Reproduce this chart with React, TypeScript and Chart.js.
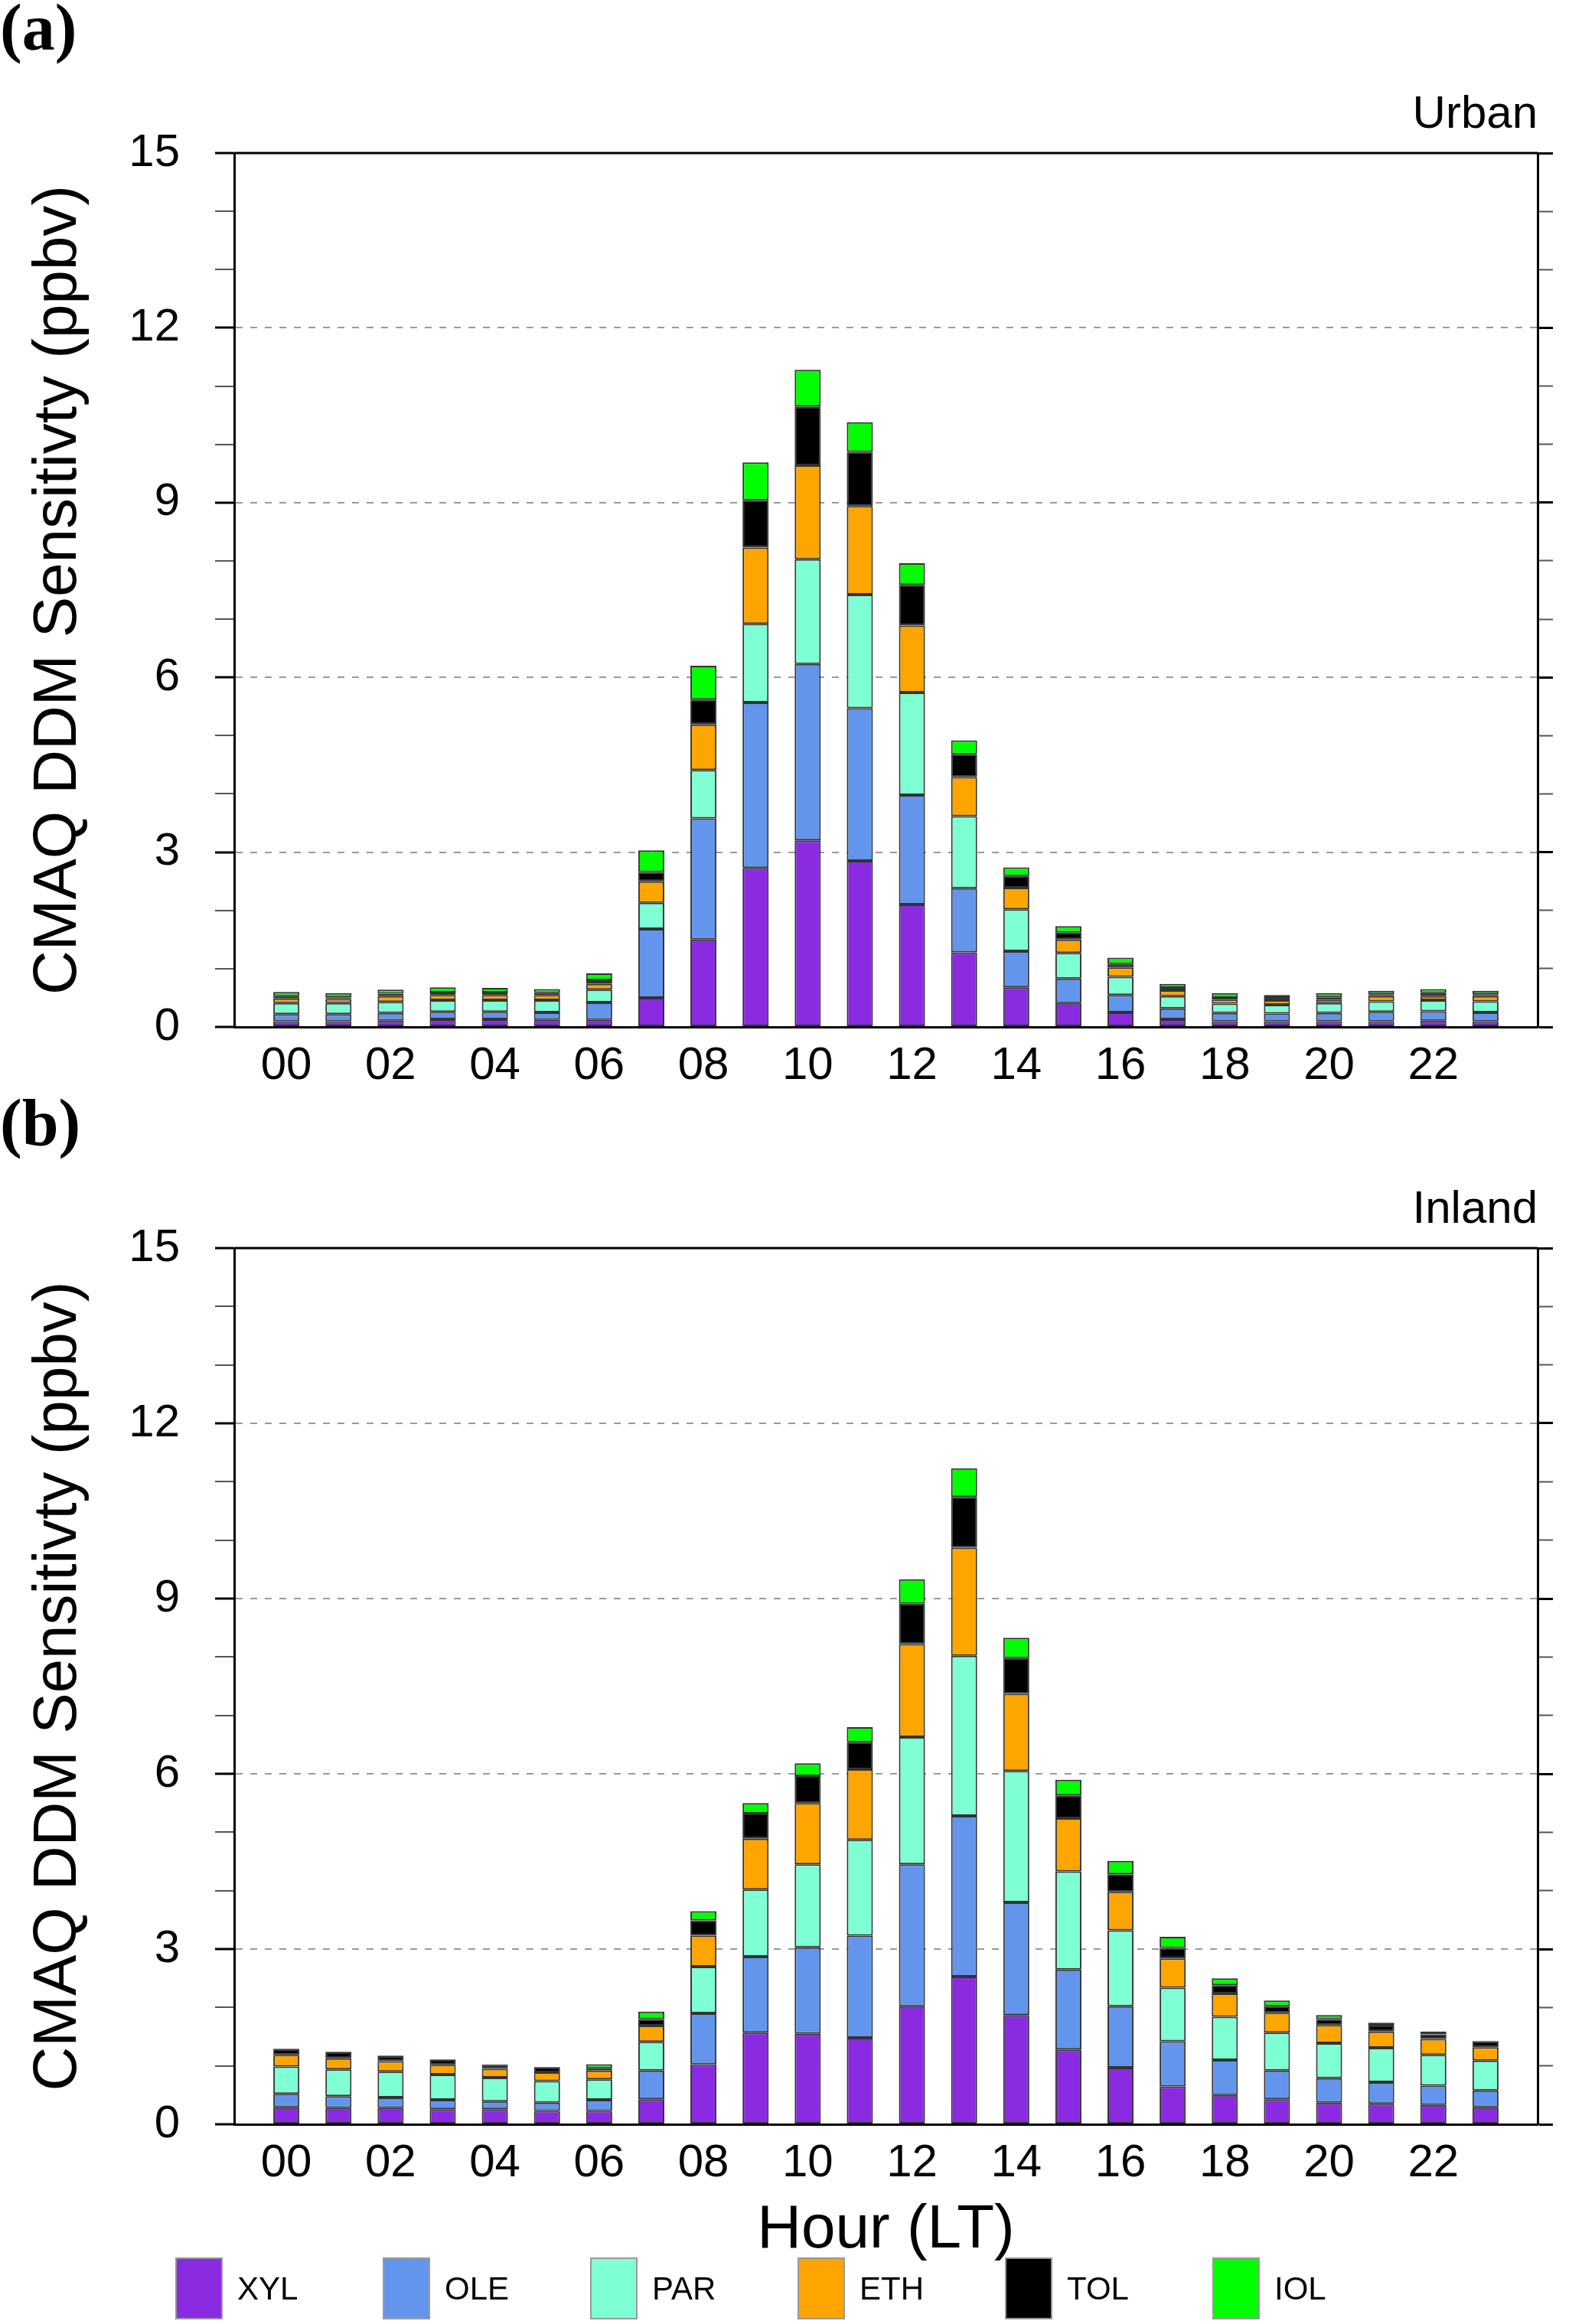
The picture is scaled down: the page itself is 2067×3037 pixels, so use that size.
import { useEffect, useRef } from "react"
import { Chart, registerables } from "chart.js"

Chart.register(...registerables)

Chart.defaults.font.family = '"Liberation Sans", Arial, sans-serif'
Chart.defaults.color = "#000"

const hours = [0, 1, 2, 3, 4, 5, 6, 7, 8, 9, 10, 11, 12, 13, 14, 15, 16, 17, 18, 19, 20, 21, 22, 23]
const hourTicks = [0, 2, 4, 6, 8, 10, 12, 14, 16, 18, 20, 22]
const seriesNames = ["XYL", "OLE", "PAR", "ETH", "TOL", "IOL"]
const seriesColors = ["#8a2be2", "#6495ed", "#7fffd4", "#ffa500", "#000000", "#00ff00"]

// (a) Urban
const urbanXYL = [0.10, 0.10, 0.11, 0.13, 0.13, 0.12, 0.12, 0.50, 1.50, 2.73, 3.20, 2.85, 2.10, 1.28, 0.68, 0.41, 0.25, 0.13, 0.10, 0.10, 0.10, 0.10, 0.11, 0.10]
const urbanOLE = [0.12, 0.12, 0.13, 0.13, 0.13, 0.13, 0.30, 1.18, 2.08, 2.84, 3.03, 2.62, 1.88, 1.10, 0.62, 0.42, 0.30, 0.19, 0.14, 0.13, 0.14, 0.16, 0.16, 0.15]
const urbanPAR = [0.19, 0.19, 0.19, 0.20, 0.20, 0.21, 0.22, 0.45, 0.83, 1.35, 1.80, 1.95, 1.76, 1.24, 0.72, 0.44, 0.31, 0.21, 0.16, 0.15, 0.17, 0.18, 0.19, 0.19]
const urbanETH = [0.08, 0.07, 0.10, 0.09, 0.09, 0.09, 0.10, 0.37, 0.78, 1.31, 1.61, 1.52, 1.15, 0.67, 0.37, 0.23, 0.16, 0.10, 0.07, 0.08, 0.06, 0.09, 0.07, 0.09]
const urbanTOL = [0.04, 0.03, 0.04, 0.04, 0.04, 0.03, 0.06, 0.16, 0.43, 0.81, 1.01, 0.93, 0.70, 0.39, 0.20, 0.12, 0.06, 0.04, 0.03, 0.04, 0.04, 0.03, 0.05, 0.03]
const urbanIOL = [0.07, 0.07, 0.07, 0.09, 0.08, 0.07, 0.12, 0.37, 0.58, 0.65, 0.63, 0.51, 0.37, 0.24, 0.15, 0.11, 0.11, 0.07, 0.08, 0.05, 0.07, 0.06, 0.07, 0.06]

// (b) Inland
const inlandXYL = [0.29, 0.28, 0.28, 0.26, 0.26, 0.23, 0.23, 0.43, 1.03, 1.57, 1.55, 1.48, 2.02, 2.53, 1.87, 1.28, 0.97, 0.65, 0.50, 0.43, 0.37, 0.35, 0.33, 0.29]
const inlandOLE = [0.23, 0.20, 0.18, 0.16, 0.13, 0.14, 0.19, 0.49, 0.87, 1.30, 1.48, 1.75, 2.43, 2.75, 1.93, 1.37, 1.05, 0.77, 0.60, 0.49, 0.42, 0.37, 0.33, 0.29]
const inlandPAR = [0.47, 0.46, 0.44, 0.43, 0.41, 0.37, 0.35, 0.49, 0.80, 1.15, 1.42, 1.64, 2.18, 2.74, 2.25, 1.68, 1.30, 0.92, 0.74, 0.65, 0.60, 0.59, 0.53, 0.51]
const inlandETH = [0.20, 0.19, 0.18, 0.17, 0.15, 0.15, 0.15, 0.28, 0.53, 0.87, 1.05, 1.21, 1.59, 1.85, 1.32, 0.91, 0.66, 0.50, 0.40, 0.34, 0.31, 0.28, 0.27, 0.23]
const inlandTOL = [0.10, 0.10, 0.09, 0.08, 0.07, 0.08, 0.04, 0.11, 0.26, 0.43, 0.46, 0.46, 0.69, 0.87, 0.61, 0.39, 0.30, 0.18, 0.14, 0.11, 0.10, 0.10, 0.08, 0.10]
const inlandIOL = [0.01, 0.01, 0.01, 0.01, 0.01, 0.01, 0.07, 0.13, 0.16, 0.18, 0.22, 0.26, 0.42, 0.49, 0.35, 0.27, 0.23, 0.19, 0.12, 0.10, 0.07, 0.05, 0.05, 0.01]

const urbanSeries = [urbanXYL, urbanOLE, urbanPAR, urbanETH, urbanTOL, urbanIOL]
const inlandSeries = [inlandXYL, inlandOLE, inlandPAR, inlandETH, inlandTOL, inlandIOL]

// top edge of the plot box (the other three sides are axis borders)
const frameTop = {
  id: "frameTop",
  afterDatasetsDraw(chart: Chart) {
    const { ctx, chartArea } = chart
    ctx.save()
    ctx.strokeStyle = "#000"
    ctx.lineWidth = 3
    ctx.beginPath()
    ctx.moveTo(chartArea.left, chartArea.top)
    ctx.lineTo(chartArea.right, chartArea.top)
    ctx.stroke()
    ctx.restore()
  },
}

const isMajor = (v: number) => v % 3 === 0
const tickColor = (c: any) => (c.tick && isMajor(c.tick.value) ? "#000" : "#555")
const tickWidth = (c: any) => (c.tick && isMajor(c.tick.value) ? 3 : 2)

type PanelProps = {
  tag: string
  region: string
  series: number[][]
  top: number
  height: number
  xHeight: number
  showXTitle: boolean
}

function Panel({ tag, region, series, top, height, xHeight, showXTitle }: PanelProps) {
  const canvasRef = useRef<HTMLCanvasElement>(null)

  useEffect(() => {
    if (!canvasRef.current) return

    const chart = new Chart(canvasRef.current, {
      type: "bar",
      data: {
        datasets: series.map((vals, i) => ({
          label: seriesNames[i],
          data: hours.map((h, j) => ({ x: h, y: vals[j] })),
          backgroundColor: seriesColors[i],
          borderColor: "#333",
          borderWidth: 2,
          borderSkipped: false,
          barPercentage: 0.5,
          categoryPercentage: 1,
        })),
      },
      options: {
        animation: false,
        responsive: true,
        maintainAspectRatio: false,
        layout: { padding: 0 },
        plugins: {
          legend: { display: false },
          tooltip: { enabled: false },
          title: {
            display: true,
            text: tag,
            align: "start",
            color: "#000",
            font: { family: '"Liberation Serif", "Times New Roman", serif', size: 86, weight: "bold", lineHeight: 1 },
            padding: { top: 0, bottom: 28 },
          },
          subtitle: {
            display: true,
            text: region,
            align: "end",
            fullSize: false,
            color: "#000",
            font: { size: 60, lineHeight: 1.2 },
            padding: { top: 0, bottom: 14 },
          },
        },
        scales: {
          x: {
            type: "linear",
            min: -1,
            max: 24,
            offset: false,
            stacked: true,
            grid: { display: false },
            border: { display: true, color: "#000", width: 3 },
            ticks: {
              autoSkip: false,
              maxRotation: 0,
              padding: 7,
              font: { size: 60 },
              callback: (v) => String(v).padStart(2, "0"),
            },
            afterBuildTicks: (s) => {
              s.ticks = hourTicks.map((v) => ({ value: v }))
            },
            afterFit: (s) => {
              s.height = xHeight
            },
            title: {
              display: showXTitle,
              text: "Hour (LT)",
              font: { size: 80, lineHeight: 1 },
              padding: { top: 0, bottom: 6 },
            },
          },
          y: {
            position: "left",
            min: 0,
            max: 15,
            stacked: true,
            ticks: {
              stepSize: 1,
              autoSkip: false,
              padding: 46,
              font: { size: 60 },
              callback: (v) => (isMajor(Number(v)) ? String(v) : ""),
            },
            grid: {
              color: (c) => (c.tick && isMajor(c.tick.value) && c.tick.value > 0 && c.tick.value < 15 ? "#9a9a9a" : "transparent"),
              lineWidth: 2,
              tickLength: 25,
              tickColor,
              tickWidth,
            },
            border: { color: "#000", width: 3, dash: [9, 10] },
            title: {
              display: true,
              text: "CMAQ DDM Sensitivty (ppbv)",
              font: { size: 80, lineHeight: 1 },
              padding: { top: 37, bottom: 0 },
            },
            afterFit: (s) => {
              s.width = 306
            },
          },
          y2: {
            position: "right",
            min: 0,
            max: 15,
            ticks: { display: false, stepSize: 1 },
            grid: { drawOnChartArea: false, tickLength: 20, tickColor, tickWidth },
            border: { color: "#000", width: 3 },
            afterFit: (s) => {
              s.width = 58
            },
          },
        },
      },
      plugins: [frameTop],
    })

    return () => chart.destroy()
  }, [])

  return (
    <div style={{ position: "absolute", left: 0, top, width: 2067, height }}>
      <canvas ref={canvasRef} />
    </div>
  )
}

function Legend() {
  return (
    <div style={{ position: "absolute", left: 0, top: 2950, width: 2067, height: 81 }}>
      {seriesNames.map((name, i) => (
        <div
          key={name}
          style={{ position: "absolute", left: 229 + i * 271, top: 0, height: 81, display: "flex", alignItems: "center" }}
        >
          <span
            style={{
              display: "inline-block",
              width: 62,
              height: 81,
              boxSizing: "border-box",
              background: seriesColors[i],
              border: "2px solid #999",
            }}
          />
          <span style={{ marginLeft: 19, fontSize: 42, color: "#000" }}>{name}</span>
        </div>
      ))}
    </div>
  )
}

export default function App() {
  useEffect(() => {
    document.body.style.margin = "0"
  }, [])

  return (
    <div
      style={{
        position: "relative",
        width: 2067,
        height: 3037,
        background: "#fff",
        fontFamily: '"Liberation Sans", Arial, sans-serif',
      }}
    >
      <Panel tag="(a)" region="Urban" series={urbanSeries} top={0} height={1440} xHeight={98} showXTitle={false} />
      <Panel tag="(b)" region="Inland" series={inlandSeries} top={1431} height={1530} xHeight={185} showXTitle={true} />
      <Legend />
    </div>
  )
}
